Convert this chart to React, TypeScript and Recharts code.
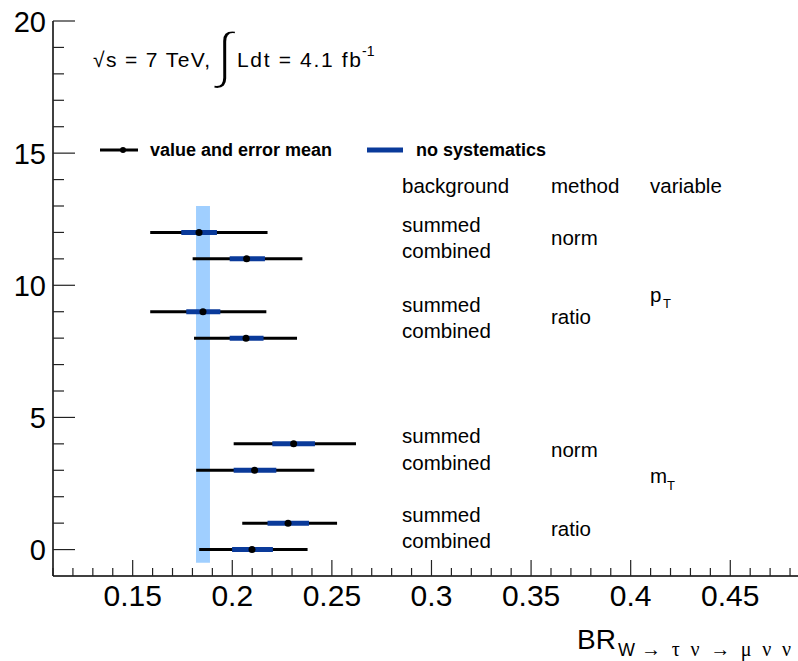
import React from "react"
import { ComposedChart, Scatter, ErrorBar, XAxis, YAxis, ReferenceArea } from "recharts"

// measurement rows, top to bottom (y position on the plot)
const positions = [12, 11, 9, 8, 4, 3, 1, 0]
const centralValues = [0.1833, 0.2072, 0.1853, 0.2069, 0.2308, 0.2112, 0.228, 0.2099]
const totalLow = [0.1588, 0.1801, 0.1588, 0.1808, 0.2007, 0.1819, 0.205, 0.1834]
const totalHigh = [0.2177, 0.2352, 0.2171, 0.2325, 0.2621, 0.2412, 0.2526, 0.2378]
const noSystLow = [0.1744, 0.1987, 0.1769, 0.1987, 0.2201, 0.2007, 0.2177, 0.1999]
const noSystHigh = [0.1923, 0.2164, 0.194, 0.2157, 0.2415, 0.2221, 0.2385, 0.2204]

// vertical band (mean value)
const bandX = [0.1818, 0.1888]
const bandY = [-0.5, 13]

const xDomain = [0.11, 0.485]
const yDomain = [-1, 20]
const xMajorTicks = [0.15, 0.2, 0.25, 0.3, 0.35, 0.4, 0.45]
const xTicks = [
  0.11, 0.12, 0.13, 0.14, 0.15, 0.16, 0.17, 0.18, 0.19, 0.2, 0.21, 0.22, 0.23, 0.24, 0.25, 0.26, 0.27, 0.28, 0.29,
  0.3, 0.31, 0.32, 0.33, 0.34, 0.35, 0.36, 0.37, 0.38, 0.39, 0.4, 0.41, 0.42, 0.43, 0.44, 0.45, 0.46, 0.47, 0.48,
]
const yMajorTicks = [0, 5, 10, 15, 20]
const yTicks = [0, 1, 2, 3, 4, 5, 6, 7, 8, 9, 10, 11, 12, 13, 14, 15, 16, 17, 18, 19, 20]

const FONT = "'Liberation Sans', Arial, Helvetica, sans-serif"
const SERIF = "'Liberation Serif', 'Times New Roman', serif"
const PLOT_TOP = 21
const PLOT_BOTTOM = 576
const PLOT_LEFT = 53
const PLOT_RIGHT = 800
const DARK_BLUE = "#0a3a9a"

const data = positions.map((y, i) => ({
  y,
  x: centralValues[i],
  total: [centralValues[i] - totalLow[i], totalHigh[i] - centralValues[i]],
  noSyst: [centralValues[i] - noSystLow[i], noSystHigh[i] - centralValues[i]],
}))

const isMajor = (v: number, list: number[]) => list.some((m) => Math.abs(m - v) < 1e-6)

function BottomTick(props: any) {
  const { x, payload } = props
  const major = isMajor(payload.value, xMajorTicks)
  return (
    <g>
      <line x1={x} x2={x} y1={PLOT_BOTTOM} y2={PLOT_BOTTOM - (major ? 16 : 8)} stroke="#222" strokeWidth={1.2} />
      {major && (
        <text x={x} y={606} textAnchor="middle" fontFamily={FONT} fontSize={30} fill="#000">
          {String(payload.value)}
        </text>
      )}
    </g>
  )
}

function TopTick(props: any) {
  const { x, payload } = props
  const major = isMajor(payload.value, xMajorTicks)
  return <line x1={x} x2={x} y1={PLOT_TOP} y2={PLOT_TOP + (major ? 16 : 8)} stroke="#222" strokeWidth={1.2} />
}

function LeftTick(props: any) {
  const { y, payload } = props
  const major = isMajor(payload.value, yMajorTicks)
  return (
    <g>
      <line x1={PLOT_LEFT} x2={PLOT_LEFT + (major ? 22 : 11)} y1={y} y2={y} stroke="#222" strokeWidth={1.2} />
      {major && (
        <text x={46} y={y + 10.5} textAnchor="end" fontFamily={FONT} fontSize={29} fill="#000">
          {String(payload.value)}
        </text>
      )}
    </g>
  )
}

function RightTick(props: any) {
  const { y, payload } = props
  const major = isMajor(payload.value, yMajorTicks)
  return <line x1={PLOT_RIGHT} x2={PLOT_RIGHT - (major ? 22 : 11)} y1={y} y2={y} stroke="#222" strokeWidth={1.2} />
}

const Dot = (props: any) => <circle cx={props.cx} cy={props.cy} r={3.5} fill="#000" />

function Annotations() {
  const txt = { fontFamily: FONT, fontSize: 20.5, fill: "#000" }
  return (
    <svg width={798} height={661} style={{ position: "absolute", left: 0, top: 0, pointerEvents: "none" }}>
      {/* energy and luminosity */}
      <text x={93} y={67} fontFamily={FONT} fontSize={21} textLength={117} lengthAdjust="spacing">
        √s = 7 TeV,
      </text>
      <text x={216} y={76} fontFamily={FONT} fontSize={62} fill="#000" stroke="#fff" strokeWidth={2.5}>
        ∫
      </text>
      <text x={237} y={67} fontFamily={FONT} fontSize={21} textLength={124} lengthAdjust="spacing">
        Ldt = 4.1 fb
      </text>
      <text x={362} y={56} fontFamily={FONT} fontSize={14}>
        -1
      </text>

      {/* legend */}
      <line x1={100} x2={138} y1={150} y2={150} stroke="#000" strokeWidth={3} />
      <circle cx={123} cy={150} r={3} fill="#000" />
      <text x={150} y={156} fontFamily={FONT} fontSize={18} fontWeight="bold">
        value and error mean
      </text>
      <line x1={367} x2={403} y1={150} y2={150} stroke={DARK_BLUE} strokeWidth={5} />
      <text x={416} y={156} fontFamily={FONT} fontSize={18} fontWeight="bold">
        no systematics
      </text>

      {/* table */}
      <text x={402} y={193} {...txt}>background</text>
      <text x={551} y={193} {...txt}>method</text>
      <text x={650} y={193} {...txt}>variable</text>

      <text x={402} y={232} {...txt}>summed</text>
      <text x={402} y={258} {...txt}>combined</text>
      <text x={551} y={245} {...txt}>norm</text>

      <text x={402} y={312} {...txt}>summed</text>
      <text x={402} y={338} {...txt}>combined</text>
      <text x={551} y={324} {...txt}>ratio</text>

      <text x={650} y={302} {...txt}>p</text>
      <text x={663} y={308} fontFamily={FONT} fontSize={13}>T</text>

      <text x={402} y={443} {...txt}>summed</text>
      <text x={402} y={470} {...txt}>combined</text>
      <text x={551} y={457} {...txt}>norm</text>

      <text x={650} y={483} {...txt}>m</text>
      <text x={667} y={490} fontFamily={FONT} fontSize={13}>T</text>

      <text x={402} y={522} {...txt}>summed</text>
      <text x={402} y={548} {...txt}>combined</text>
      <text x={551} y={536} {...txt}>ratio</text>

      {/* axis title */}
      <text x={577} y={649} fontFamily={FONT} fontSize={28}>BR</text>
      <text x={618} y={656} fontFamily={FONT} fontSize={18}>W</text>
      <text x={641} y={656} fontFamily={SERIF} fontSize={20} textLength={150} lengthAdjust="spacing">
        → τ ν → μ ν ν
      </text>
    </svg>
  )
}

export default function App() {
  return (
    <div style={{ position: "absolute", left: 0, top: 0, width: 798, height: 661, overflow: "hidden", background: "#fff" }}>
      <ComposedChart width={800} height={661} data={data} margin={{ top: PLOT_TOP, right: 0, bottom: 0, left: 0 }}>
        <XAxis
          xAxisId="bottom"
          type="number"
          dataKey="x"
          domain={xDomain}
          ticks={xTicks}
          interval={0}
          height={85}
          allowDataOverflow
          axisLine={{ stroke: "#000", strokeWidth: 1.5 }}
          tickLine={false}
          tick={<BottomTick />}
        />
        <XAxis
          xAxisId="top"
          orientation="top"
          type="number"
          dataKey="x"
          domain={xDomain}
          ticks={xTicks}
          interval={0}
          height={0}
          allowDataOverflow
          axisLine={{ stroke: "#000", strokeWidth: 1.5 }}
          tickLine={false}
          tick={<TopTick />}
        />
        <YAxis
          yAxisId="left"
          type="number"
          dataKey="y"
          domain={yDomain}
          ticks={yTicks}
          interval={0}
          width={PLOT_LEFT}
          allowDataOverflow
          axisLine={{ stroke: "#000", strokeWidth: 1.5 }}
          tickLine={false}
          tick={<LeftTick />}
        />
        <YAxis
          yAxisId="right"
          orientation="right"
          type="number"
          dataKey="y"
          domain={yDomain}
          ticks={yTicks}
          interval={0}
          width={0}
          allowDataOverflow
          axisLine={{ stroke: "#000", strokeWidth: 1.5 }}
          tickLine={false}
          tick={<RightTick />}
        />
        <ReferenceArea
          xAxisId="bottom"
          yAxisId="left"
          x1={bandX[0]}
          x2={bandX[1]}
          y1={bandY[0]}
          y2={bandY[1]}
          fill="#a0cfff"
          fillOpacity={1}
          stroke="none"
        />
        <Scatter
          xAxisId="bottom"
          yAxisId="left"
          dataKey="y"
          fill="#000"
          shape={<Dot />}
          isAnimationActive={false}
        >
          <ErrorBar dataKey="total" direction="x" width={0} stroke="#000" strokeWidth={3} isAnimationActive={false} />
          <ErrorBar dataKey="noSyst" direction="x" width={0} stroke={DARK_BLUE} strokeWidth={5} isAnimationActive={false} />
        </Scatter>
      </ComposedChart>
      <Annotations />
    </div>
  )
}
